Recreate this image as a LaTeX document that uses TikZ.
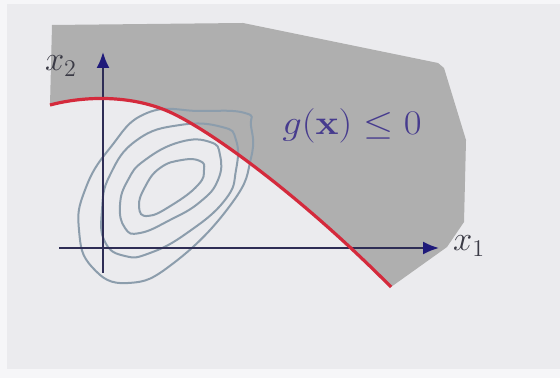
\documentclass[tikz,border=0pt]{standalone}
\usetikzlibrary{arrows.meta}
\definecolor{bgcol}{HTML}{EBEBEE}
\definecolor{edgecol}{HTML}{F6F6F8}
\definecolor{regioncol}{HTML}{AFAFAF}
\definecolor{contourcol}{HTML}{8C9DAC}
\definecolor{axiscol}{HTML}{2E2D55}
\definecolor{tipcol}{HTML}{1F1A7A}
\definecolor{curvecol}{HTML}{D42A3C}
\definecolor{textcol}{HTML}{463B8E}
\definecolor{labelcol}{HTML}{3A3A45}
\tikzset{
  axis/.style={draw=axiscol,line width=1pt,-{Latex[length=8pt,width=6.5pt,color=tipcol]}},
  contour/.style={draw=contourcol,line width=1pt},
  gcurve/.style={draw=curvecol,line width=1.6pt},
  axislabel/.style={text=labelcol,font=\fontsize{18}{20}\selectfont},
}
\begin{document}
\begin{tikzpicture}[x=0.5pt,y=-0.5pt]
\useasboundingbox (0,0) rectangle (560,378);
\fill[edgecol] (0,0) rectangle (560,378);
\fill[bgcol] (7,4) rectangle (560,369);
% feasible region
\fill[regioncol] (50,105) .. controls (80,97) and (125,94) .. (165,110)
  .. controls (205,126) and (300,195) .. (391,287)
  -- (447,247) -- (464,222) -- (466,140) -- (444,68) -- (438,63) -- (243,23) -- (52,25) -- cycle;
% level sets
\draw[contour] plot[smooth cycle,tension=0.8] coordinates {(147,113) (200,111) (245,113) (251,126) (251,158) (232,203) (175,262) (128,283) (92,267) (79,230) (85,190) (110,148)};
\draw[contour] plot[smooth cycle,tension=0.8] coordinates {(180,125) (222,127) (236,140) (236,170) (225,200) (187,233) (150,253) (125,256) (105,242) (102,210) (110,175) (137,140)};
\draw[contour] plot[smooth cycle,tension=0.8] coordinates {(180,142) (210,142) (220,155) (218,180) (200,202) (170,220) (140,233) (125,228) (120,205) (128,180) (145,160)};
\draw[contour] plot[smooth cycle,tension=0.8] coordinates {(182,160) (200,161) (204,170) (198,185) (172,205) (148,216) (139,207) (145,187) (160,168)};
% axes
\coordinate (x1from) at (59,248);
\coordinate (x1to) at (439,248);
\coordinate (x2from) at (103,273);
\coordinate (x2to) at (103,52);
\draw[axis] (x1from) -- (x1to);
\draw[axis] (x2from) -- (x2to);
\node[axislabel] (x1lab) at (469,246) {$x_1$};
\node[axislabel] (x2lab) at (61,66) {$x_2$};
% constraint boundary
\draw[gcurve] (50,105) .. controls (80,97) and (125,94) .. (165,110)
  .. controls (205,126) and (300,195) .. (391,287);
\node[text=textcol,font=\fontsize{18}{20}\selectfont,xscale=1.12] (glab) at (352,126) {$g(\mathbf{x}) \leq 0$};
\end{tikzpicture}
\end{document}
